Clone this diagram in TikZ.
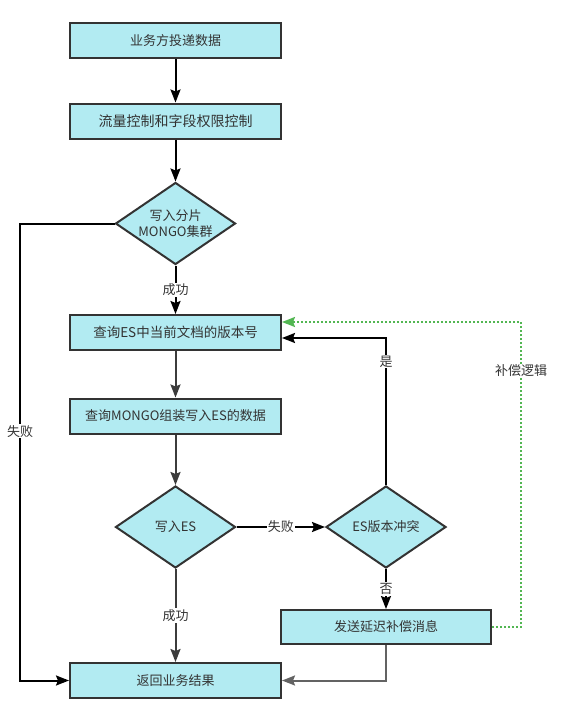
\documentclass[tikz,border=0pt]{standalone}
\usepackage{fontspec}
\setmainfont{Noto Sans CJK SC}
\usetikzlibrary{shapes.geometric,arrows.meta}
\definecolor{boxfill}{RGB}{178,235,242}
\definecolor{boxline}{RGB}{51,51,51}
\definecolor{txtgray}{RGB}{51,51,51}
\definecolor{linegray}{RGB}{60,60,60}
\definecolor{compgreen}{RGB}{82,182,82}
\begin{document}
\begin{tikzpicture}[x=1pt,y=-1pt,
  font=\fontsize{13}{16}\selectfont,
  every node/.style={text=txtgray},
  box/.style={draw=boxline,line width=2pt,fill=boxfill,minimum width=211pt,minimum height=35pt,inner sep=0pt},
  cond/.style={draw=boxline,line width=2pt,fill=boxfill,shape=diamond,minimum width=120pt,minimum height=82pt,inner sep=0pt},
  ctext/.style={align=center,inner sep=0pt},
  flow/.style={line width=2pt,-{Stealth[length=13pt,width=10pt,inset=2pt]}},
  lbl/.style={fill=white,inner sep=1pt}]
\useasboundingbox (0,0) rectangle (562,720);
\node[box] (b1) at (175.5,40.5) {业务方投递数据};
\node[box] (b2) at (175.5,121) {\fontsize{14}{16}\selectfont 流量控制和字段权限控制};
\node[cond] (d1) at (175.5,223.5) {};
\node[ctext] (d1t) at (d1) {写入分片\\MONGO集群};
\node[box] (b3) at (175.5,332.5) {\fontsize{13.5}{16}\selectfont 查询ES中当前文档的版本号};
\node[box] (b4) at (175.5,416) {查询MONGO组装写入ES的数据};
\node[cond] (d2) at (175.5,527) {};
\node[ctext] (d2t) at (d2) {写入ES};
\node[cond] (d3) at (386,527) {};
\node[ctext] (d3t) at (d3) {ES版本冲突};
\node[box,minimum width=210pt,minimum height=34pt] (b5) at (386,627) {发送延迟补偿消息};
\node[box] (b6) at (175.5,680.5) {返回业务结果};
\coordinate (lft) at (20,0);
\coordinate (rgt) at (521,0);
\coordinate (b3a) at ([yshift=-5.5pt]b3.east);
\coordinate (b3g) at ([yshift=10.5pt]b3.east);
\draw[flow,black] (b1) -- (b2);
\draw[flow,black] (b2) -- (d1);
\draw[flow,black] (d1) -- node[lbl] {成功} (b3);
\draw[flow,black] (d1.west) -- (d1.west -| lft) -- node[lbl,pos=0.455] {失败} (b6.west -| lft) -- (b6.west);
\draw[flow,linegray] (b3) -- (b4);
\draw[flow,linegray] (b4) -- (d2);
\draw[flow,linegray] (d2) -- node[lbl] {成功} (b6);
\draw[flow,black] (d2) -- node[lbl] {失败} (d3);
\draw[flow,black] (d3.north) |- node[lbl,pos=0.42] {是} (b3a);
\draw[flow,black] (d3) -- node[lbl] {否} (b5);
\draw[flow,linegray!80] (b5.south) |- (b6.east);
\draw[flow,compgreen,dotted,line width=2pt] (b5.east) -- (b5.east -| rgt) -- node[lbl,pos=0.84] {补偿逻辑} (b3g -| rgt) -- (b3g);
\end{tikzpicture}
\end{document}
